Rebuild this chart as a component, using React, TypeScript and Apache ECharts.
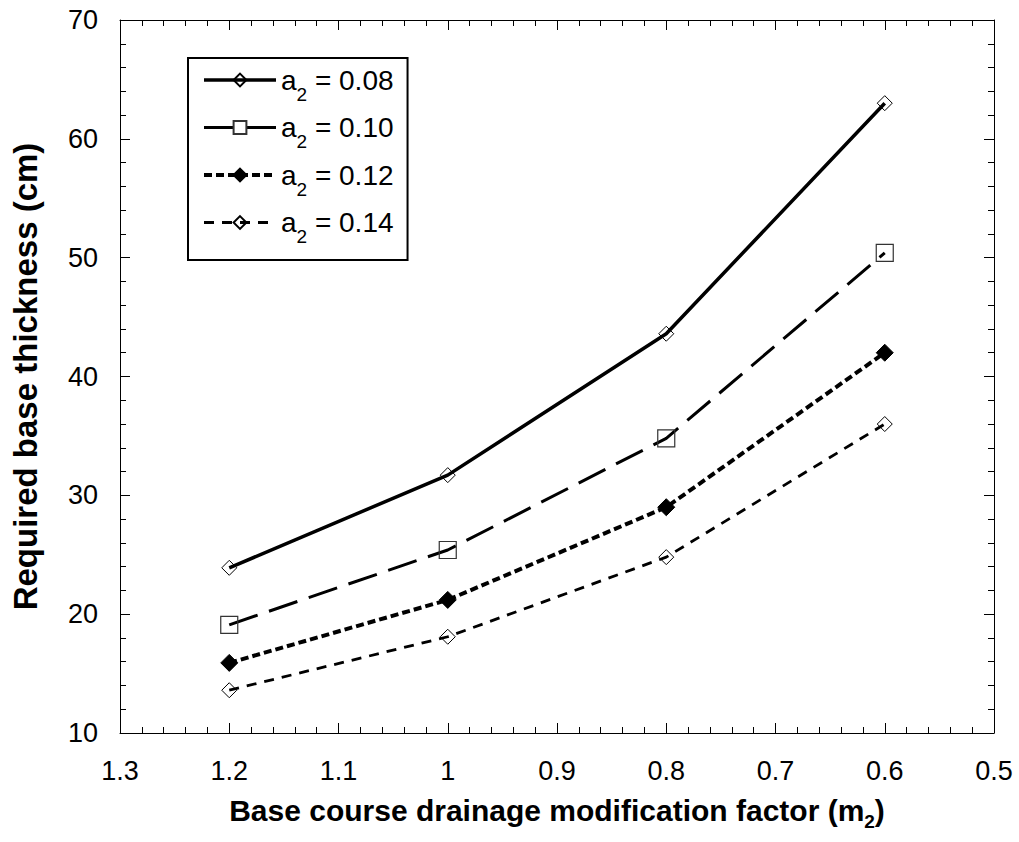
import React, { useEffect, useRef } from "react";
import * as echarts from "echarts";

const xValues = [1.2, 1.0, 0.8, 0.6];
const a008 = [23.9, 31.7, 43.6, 63.0];
const a010 = [19.1, 25.4, 34.8, 50.4];
const a012 = [15.9, 21.2, 29.0, 42.0];
const a014 = [13.6, 18.1, 24.8, 36.0];
const seriesLabels = ["0.08", "0.10", "0.12", "0.14"];

const FONT = "Liberation Sans, Arial, sans-serif";

export default function App() {
  const ref = useRef<HTMLDivElement>(null);
  useEffect(() => {
    if (!ref.current) return;
    const chart = echarts.init(ref.current, null, { renderer: "svg" });
    const pair = (ys: number[]) => xValues.map((x, i) => [x, ys[i]]);
    const axisCommon = {
      axisLine: { show: true, lineStyle: { color: "#000", width: 1 } },
      axisTick: { show: true, inside: true, length: 10, lineStyle: { color: "#000", width: 1 } },
      minorTick: { show: true, splitNumber: 5, length: 6, lineStyle: { color: "#000", width: 1 } },
      splitLine: { show: false },
      minorSplitLine: { show: false },
    };
    const hollow = { color: "rgba(0,0,0,0)", borderColor: "#000", borderWidth: 1 };
    const names = seriesLabels.map((s) => `a2 = ${s}`);
    const lineStyles = [
      { color: "#000", width: 3.5, type: "solid" },
      { color: "#000", width: 3, type: [30, 12] },
      { color: "#000", width: 4, type: [8, 4] },
      { color: "#000", width: 2.8, type: [10, 8] },
    ];
    chart.setOption({
      animation: false,
      backgroundColor: "#fff",
      grid: { left: 120, right: 25, top: 20, bottom: 109 },
      xAxis: [
        {
          type: "value",
          inverse: true,
          min: 0.5,
          max: 1.3,
          interval: 0.1,
          ...axisCommon,
          axisLabel: { fontSize: 27, fontFamily: FONT, color: "#000", margin: 24 },
          name: "Base course drainage modification factor (m{sub|2})",
          nameLocation: "middle",
          nameGap: 57,
          nameTextStyle: {
            fontSize: 30,
            fontWeight: "bold",
            fontFamily: FONT,
            color: "#000",
            rich: {
              sub: { fontSize: 19, fontWeight: "bold", fontFamily: FONT, color: "#000", padding: [22, 0, 0, 0] },
            },
          },
        },
        {
          type: "value",
          position: "top",
          inverse: true,
          min: 0.5,
          max: 1.3,
          interval: 0.1,
          ...axisCommon,
          axisLabel: { show: false },
        },
      ],
      yAxis: [
        {
          type: "value",
          min: 10,
          max: 70,
          interval: 10,
          ...axisCommon,
          axisLabel: { fontSize: 27, fontFamily: FONT, color: "#000", margin: 22 },
          name: "Required base thickness (cm)",
          nameLocation: "middle",
          nameGap: 78,
          nameTextStyle: { fontSize: 33, fontWeight: "bold", fontFamily: FONT, color: "#000" },
        },
        {
          type: "value",
          position: "right",
          min: 10,
          max: 70,
          interval: 10,
          ...axisCommon,
          axisLabel: { show: false },
        },
      ],
      legend: {
        orient: "vertical",
        left: 188,
        top: 58,
        padding: [8, 14, 14, 14],
        borderColor: "#000",
        borderWidth: 2,
        itemWidth: 72,
        itemHeight: 16,
        itemGap: 10,
        data: names.map((n, i) => ({ name: n, lineStyle: { width: lineStyles[i].width } })),
        formatter: (name: string) => `a{sub|2} = ${name.replace("a2 = ", "")}`,
        textStyle: {
          fontSize: 28,
          fontFamily: FONT,
          color: "#000",
          rich: {
            sub: { fontSize: 19, fontFamily: FONT, color: "#000", padding: [28, 0, 0, 0] },
          },
        },
      },
      series: [
        {
          name: names[0],
          type: "line",
          data: pair(a008),
          symbol: "diamond",
          symbolSize: 15,
          itemStyle: hollow,
          lineStyle: lineStyles[0],
        },
        {
          name: names[1],
          type: "line",
          data: pair(a010),
          symbol: "rect",
          symbolSize: 17,
          itemStyle: { color: "rgba(0,0,0,0)", borderColor: "#333", borderWidth: 1.2 },
          lineStyle: lineStyles[1],
        },
        {
          name: names[2],
          type: "line",
          data: pair(a012),
          symbol: "diamond",
          symbolSize: 17,
          itemStyle: { color: "#000", borderColor: "#000", borderWidth: 1 },
          lineStyle: lineStyles[2],
        },
        {
          name: names[3],
          type: "line",
          data: pair(a014),
          symbol: "diamond",
          symbolSize: 15,
          itemStyle: hollow,
          lineStyle: lineStyles[3],
        },
      ],
    });
    return () => chart.dispose();
  }, []);
  return <div ref={ref} style={{ width: 1019, height: 842, position: "absolute", left: 0, top: 0 }} />;
}
